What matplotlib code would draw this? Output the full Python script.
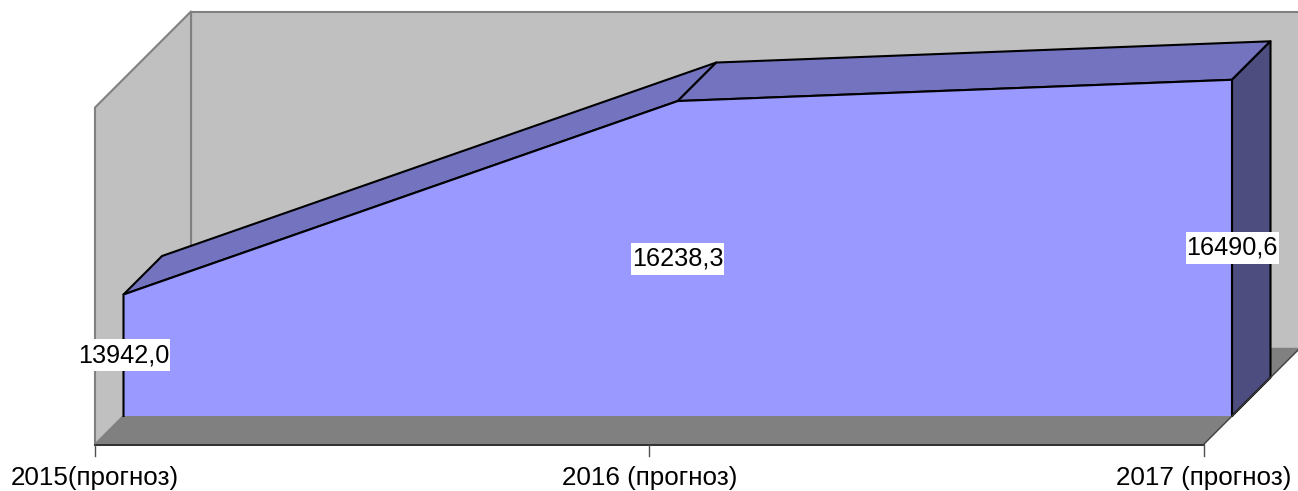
"""Aire 3D façon Excel : prévisions 2015-2017, dessinée à la main en projection oblique."""
import numpy as np
import matplotlib
matplotlib.use("Agg")
import matplotlib.pyplot as plt
from matplotlib.patches import Polygon, Rectangle
from matplotlib.transforms import IdentityTransform

# ============================================
# DATA
# ============================================
categories = ["2015(прогноз)", "2016 (прогноз)", "2017 (прогноз)"]
values = [13942.0, 16238.3, 16490.6]
value_labels = ["13942,0", "16238,3", "16490,6"]
axis_min = 12500
axis_max = 16500

# ============================================
# STYLE
# ============================================
W, H = 1298, 491
DEPTH_FRONT = -28.5   # plan de l'axe, px
DEPTH_AREA = 38.5     # arrière de l'aire, px
DEPTH_WALL = 67.5     # mur du fond, px

WALL = "#c0c0c0"
FLOOR = "#808080"
FRONT = "#9999ff"
TOP = "#7373bf"
SIDE = "#4d4d80"
TICK_FONT = 18.7
LABEL_FONT = 18.2
BOX_W, BOX_H = 93, 32  # fond blanc des étiquettes, px

plt.rcParams["font.family"] = ["Liberation Sans", "DejaVu Sans"]

fig = plt.figure(figsize=(W / 100, H / 100), dpi=100)
ax = fig.add_axes([123.5 / W, 1 - 416 / H, (1232 - 123.5) / W, (416 - 79) / H])
ax.set_xlim(0, len(categories) - 1)
ax.set_ylim(axis_min, axis_max)
ax.axis("off")


def project(x, v, depth=0.0):
    """Donnée -> pixels écran, décalée en diagonale selon la profondeur"""
    px, py = ax.transData.transform((x, v))
    return px + depth, py + depth


def face(points, color, edge=None, lw=1.5, z=1):
    ax.add_patch(Polygon(points, closed=True, facecolor=color, edgecolor=edge or color,
                         linewidth=lw, joinstyle="round", transform=IdentityTransform(),
                         clip_on=False, zorder=z))


x_last = len(categories) - 1

# Murs et sol
face([project(0, axis_min, DEPTH_WALL), project(0, axis_max, DEPTH_WALL),
      project(x_last, axis_max, DEPTH_WALL), project(x_last, axis_min, DEPTH_WALL)],
     WALL, FLOOR, z=1)
face([project(0, axis_min, DEPTH_FRONT), project(0, axis_max, DEPTH_FRONT),
      project(0, axis_max, DEPTH_WALL), project(0, axis_min, DEPTH_WALL)],
     WALL, FLOOR, z=1)
face([project(0, axis_min, DEPTH_FRONT), project(x_last, axis_min, DEPTH_FRONT),
      project(x_last, axis_min, DEPTH_WALL), project(0, axis_min, DEPTH_WALL)],
     FLOOR, FLOOR, lw=1.0, z=2)

# Aire : dessus, côté droit, face avant
for i in range(x_last):
    face([project(i, values[i]), project(i + 1, values[i + 1]),
          project(i + 1, values[i + 1], DEPTH_AREA), project(i, values[i], DEPTH_AREA)],
         TOP, "black", z=3)
face([project(x_last, axis_min), project(x_last, values[-1]),
      project(x_last, values[-1], DEPTH_AREA), project(x_last, axis_min, DEPTH_AREA)],
     SIDE, "black", z=3)

# Face avant : remplissage sans bord, contour ouvert en bas
outline = [project(0, axis_min)]
outline += [project(i, values[i]) for i in range(len(values))]
outline += [project(x_last, axis_min)]
ax.add_patch(Polygon(outline, closed=True, facecolor=FRONT, edgecolor="none",
                     transform=IdentityTransform(), clip_on=False, zorder=4))
ax.plot([p[0] for p in outline], [p[1] for p in outline], color="black", lw=1.5,
        solid_joinstyle="round", transform=IdentityTransform(), clip_on=False, zorder=5)

# Axe des catégories, graduations, bord droit du sol
x0, y0 = project(0, axis_min, DEPTH_FRONT)
x1, y1 = project(x_last, axis_min, DEPTH_FRONT)
ax.plot([x0, x1], [y0, y1], color="#303030", lw=1.4, transform=IdentityTransform(),
        clip_on=False, zorder=6)
xe, ye = project(x_last, axis_min, DEPTH_WALL)
ax.plot([x1, xe], [y1, ye], color="#404040", lw=0.9, transform=IdentityTransform(),
        clip_on=False, zorder=6)
for i, label in enumerate(categories):
    tx, ty = project(i, axis_min, DEPTH_FRONT)
    ax.plot([tx, tx], [ty, ty - 11], color="#505050", lw=1.0, transform=IdentityTransform(),
            clip_on=False, zorder=6)
    ax.text(tx, ty - 34, label, ha="center", va="center", fontsize=TICK_FONT, color="black",
            transform=IdentityTransform(), clip_on=False, zorder=7)

# Étiquettes de valeurs au milieu de la hauteur de l'aire
for i, label in enumerate(value_labels):
    lx, ly = project(i, (axis_min + values[i]) / 2)
    ax.add_patch(Rectangle((lx - BOX_W / 2, ly - BOX_H / 2), BOX_W, BOX_H, facecolor="white",
                           edgecolor="none", transform=IdentityTransform(), clip_on=False,
                           zorder=8))
    ax.text(lx, ly, label, ha="center", va="center", fontsize=LABEL_FONT, color="black",
            transform=IdentityTransform(), clip_on=False, zorder=9)

fig.savefig("out.png", dpi=100, facecolor="white")
